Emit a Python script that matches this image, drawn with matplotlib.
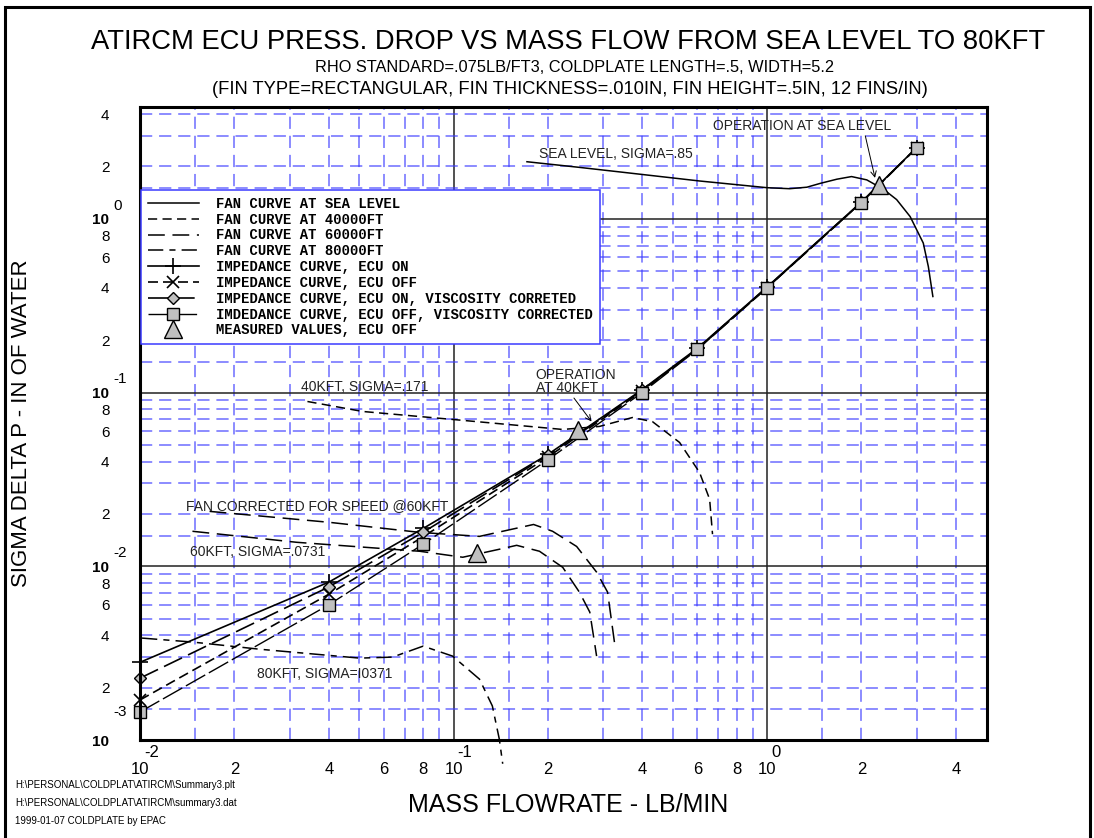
import matplotlib.pyplot as plt
from matplotlib.patches import Rectangle
from matplotlib.ticker import FixedLocator, FuncFormatter

plt.rcParams['font.family'] = ['Liberation Sans', 'DejaVu Sans']

# impedance curves (lb/min, in of water)
flow_imp = [0.01, 0.04, 0.08, 0.2, 0.4, 0.6, 1.0, 2.0, 3.0]
dp_ecu_on = [2.8e-3, 8.1e-3, 0.0165, 0.044, 0.104, 0.18, 0.405, 1.25, 2.57]
dp_ecu_off = [1.7e-3, 6.9e-3, 0.0148, 0.0425, 0.102, 0.178, 0.402, 1.24, 2.56]
dp_on_visc = [2.27e-3, 7.6e-3, 0.0157, 0.0435, 0.103, 0.179, 0.403, 1.245, 2.565]
dp_off_visc = [1.45e-3, 6.0e-3, 0.0134, 0.041, 0.1, 0.177, 0.4, 1.24, 2.56]

# measured points, ECU off
flow_meas = [2.28, 0.249, 0.119]
dp_meas = [1.57, 0.0612, 0.012]

# fan curves
flow_sl = [0.1715, 0.25, 0.34, 0.61, 1.0, 1.18, 1.34, 1.48, 1.67, 1.86, 2.08,
           2.35, 2.59, 2.86, 3.15, 3.27, 3.38]
dp_sl = [2.13, 1.98, 1.86, 1.65, 1.51, 1.49, 1.52, 1.60, 1.69, 1.75, 1.675,
         1.48, 1.29, 1.03, 0.725, 0.53, 0.357]
flow_40k = [0.0342, 0.0513, 0.0993, 0.223, 0.292, 0.372, 0.431, 0.526, 0.609,
            0.656, 0.670]
dp_40k = [0.0888, 0.0778, 0.070, 0.0613, 0.0638, 0.0718, 0.068, 0.0516, 0.0347,
          0.0243, 0.0153]
flow_60k = [0.0147, 0.0316, 0.078, 0.107, 0.140, 0.159, 0.188, 0.223, 0.252,
            0.272, 0.286]
dp_60k = [0.0159, 0.01374, 0.0122, 0.01127, 0.01253, 0.0132, 0.0122, 0.00986,
          0.0071, 0.00545, 0.00304]
flow_60k_corr = [0.01667, 0.0402, 0.078, 0.121, 0.18, 0.207, 0.247, 0.286,
                 0.31, 0.326]
dp_60k_corr = [0.0207, 0.0179, 0.01567, 0.01486, 0.0174, 0.0159, 0.013,
               0.00925, 0.0071, 0.00366]
flow_80k = [0.01015, 0.01476, 0.0241, 0.0502, 0.0639, 0.080, 0.0993, 0.121,
            0.133, 0.140, 0.1435]
dp_80k = [0.00386, 0.00366, 0.00333, 0.00296, 0.0030, 0.00347, 0.00304,
          0.00224, 0.00157, 0.00101, 0.00073]

x_decades = [0.01, 0.1, 1.0]
y_decades = [0.001, 0.01, 0.1, 1.0]
grid_mult = [1.5, 2, 3, 4, 5, 6, 7, 8, 9]

GRAY = '#c0c0c0'
BLUE = '#3b3bff'
W, H = 1094, 838

fig = plt.figure(figsize=(W / 100, H / 100), dpi=100)
ax = fig.add_axes([140 / W, 1 - 740 / H, 847 / W, 633 / H])
ax.set_xscale('log')
ax.set_yscale('log')
ax.set_xlim(0.01, 5.03)
ax.set_ylim(1e-3, 4.4)

lw = 1.1
ax.plot(flow_sl, dp_sl, color='k', lw=lw, label='FAN CURVE AT SEA LEVEL')
ax.plot(flow_40k, dp_40k, color='k', lw=lw, dashes=(6, 3.5),
        label='FAN CURVE AT 40000FT')
ax.plot(flow_60k, dp_60k, color='k', lw=lw, dashes=(11, 5),
        label='FAN CURVE AT 60000FT')
ax.plot(flow_60k_corr, dp_60k_corr, color='k', lw=lw, dashes=(11, 5))
ax.plot(flow_80k, dp_80k, color='k', lw=lw, dashes=(10, 4, 4, 4),
        clip_on=False, label='FAN CURVE AT 80000FT')

ax.plot(flow_imp, dp_ecu_on, color='k', lw=1.2, marker='+', ms=12, mew=1.2,
        clip_on=False, label='IMPEDANCE CURVE, ECU ON')
ax.plot(flow_imp, dp_ecu_off, color='k', lw=1.2, dashes=(6, 3), marker='x',
        ms=9, mew=1.2, clip_on=False, label='IMPEDANCE CURVE, ECU OFF')
ax.plot(flow_imp, dp_on_visc, color='k', lw=1.2, dashes=(12, 4), marker='D',
        ms=6.5, mfc=GRAY, mec='k', mew=1.0, clip_on=False,
        label='IMPEDANCE CURVE, ECU ON, VISCOSITY CORRETED')
ax.plot(flow_imp, dp_off_visc, color='k', lw=1.0, dashes=(16, 3), marker='s',
        ms=9, mfc=GRAY, mec='k', mew=1.0, clip_on=False,
        label='IMDEDANCE CURVE, ECU OFF, VISCOSITY CORRECTED')
ax.plot(flow_meas, dp_meas, ls='none', marker='^', ms=13, mfc=GRAY, mec='k',
        mew=1.0, zorder=5, label='MEASURED VALUES, ECU OFF')

# ticks and grid
x_minor = [m * d for d in x_decades for m in grid_mult if m * d < 4.5]
y_minor = [m * d for d in y_decades for m in grid_mult if m * d < 4.4]
ax.xaxis.set_major_locator(FixedLocator(x_decades))
ax.yaxis.set_major_locator(FixedLocator(y_decades))
ax.xaxis.set_minor_locator(FixedLocator(x_minor))
ax.yaxis.set_minor_locator(FixedLocator(y_minor))


def minor_label(v, pos):
    for d in y_decades:
        m = round(v / d, 3)
        if m in (2, 4, 6, 8):
            return str(int(m))
    return ''


ax.xaxis.set_major_formatter(FuncFormatter(lambda v, p: '10'))
ax.yaxis.set_major_formatter(FuncFormatter(lambda v, p: '10'))
ax.xaxis.set_minor_formatter(FuncFormatter(minor_label))
ax.yaxis.set_minor_formatter(FuncFormatter(minor_label))
ax.tick_params(axis='x', which='both', length=0, pad=16, labelsize=12)
ax.tick_params(axis='y', which='both', length=0, pad=22, labelsize=11)
for lbl in ax.yaxis.get_majorticklabels():
    lbl.set_fontweight('bold')

ax.grid(which='minor', color=BLUE, alpha=0.75, lw=1.1, ls=(0, (8, 4.5)))
ax.grid(which='major', color='#222222', lw=1.1, ls='-')
ax.set_axisbelow(True)
for s in ax.spines.values():
    s.set_linewidth(2.2)

for d, e in zip(x_decades, ['-2', '-1', '0']):
    ax.annotate(e, xy=(d, 0), xycoords=('data', 'axes fraction'),
                xytext=(3, -9), textcoords='offset points',
                ha='left', va='center', fontsize=12)
for d, e, dy in zip(y_decades, ['-3', '-2', '-1', '0'], [20, 9.5, 9.5, 9.5]):
    ax.annotate(e, xy=(0, d), xycoords=('axes fraction', 'data'),
                xytext=(-19.5, dy), textcoords='offset points',
                ha='left', va='center', fontsize=11)

# curve annotations
tfs = 10
ax.annotate('OPERATION AT SEA LEVEL', xy=(2.21, 1.72), xytext=(0.673, 3.42),
            fontsize=tfs, va='center', ha='left', color='#222222',
            arrowprops=dict(arrowstyle='->', lw=0.7, color='k',
                            shrinkA=0, shrinkB=0,
                            relpos=(0.85, 0.0)))
ax.text(0.1874, 2.36, 'SEA LEVEL, SIGMA=.85', fontsize=tfs, va='center',
        color='#222222')
ax.text(0.0327, 0.108, '40KFT, SIGMA=.171', fontsize=tfs, va='center',
        color='#222222')
ax.annotate('OPERATION\nAT 40KFT', xy=(0.2755, 0.0681), xytext=(0.1827, 0.1157),
            fontsize=tfs, va='center', ha='left', color='#222222',
            linespacing=0.95,
            arrowprops=dict(arrowstyle='->', lw=0.7, color='k',
                            shrinkA=0, shrinkB=0, relpos=(0.45, 0.0)))
ax.text(0.01407, 0.0221, 'FAN CORRECTED FOR SPEED @60KFT', fontsize=tfs,
        va='center', color='#222222')
ax.text(0.01449, 0.01203, '60KFT, SIGMA=.0731', fontsize=tfs, va='center',
        color='#222222')
ax.text(0.02355, 0.002394, '80KFT, SIGMA=I0371', fontsize=tfs, va='center',
        color='#222222')

leg = ax.legend(loc='upper left', bbox_to_anchor=(0.001, 0.869),
                prop=dict(family='Liberation Mono', weight='bold', size=10),
                frameon=True, fancybox=False, edgecolor=BLUE, framealpha=1,
                borderpad=0.5, labelspacing=0.13, handlelength=3.7,
                handletextpad=1.2, borderaxespad=0, numpoints=1)
leg.get_frame().set_linewidth(1.1)
leg.set_zorder(10)

# titles and labels
fig.text(568 / W, 1 - 42 / H,
         'ATIRCM ECU PRESS. DROP VS MASS FLOW FROM SEA LEVEL TO 80KFT',
         ha='center', va='center', fontsize=19.7)
fig.text(575 / W, 1 - 68 / H,
         'RHO STANDARD=.075LB/FT3, COLDPLATE LENGTH=.5, WIDTH=5.2',
         ha='center', va='center', fontsize=11.8)
fig.text(570 / W, 1 - 89 / H,
         '(FIN TYPE=RECTANGULAR, FIN THICKNESS=.010IN, FIN HEIGHT=.5IN, '
         '12 FINS/IN)', ha='center', va='center', fontsize=13.2)
fig.text(568 / W, 1 - 805 / H, 'MASS FLOWRATE - LB/MIN', ha='center',
         va='center', fontsize=18)
fig.text(22 / W, 1 - 423 / H, 'SIGMA DELTA P - IN OF WATER', ha='center',
         va='center', rotation=90, fontsize=16)

for yy, s in zip([785, 803, 821], ['H:\\PERSONAL\\COLDPLAT\\ATIRCM\\Summary3.plt',
                                   'H:\\PERSONAL\\COLDPLAT\\ATIRCM\\summary3.dat',
                                   '1999-01-07 COLDPLATE by EPAC']):
    fig.text(15 / W, 1 - yy / H, s, ha='left', va='center', fontsize=7)

fig.add_artist(Rectangle((5 / W, -0.05), 1085 / W, 1.05 - 7 / H,
                         transform=fig.transFigure, fill=False, lw=2.2,
                         edgecolor='k'))

fig.savefig('out.png', dpi=100)
